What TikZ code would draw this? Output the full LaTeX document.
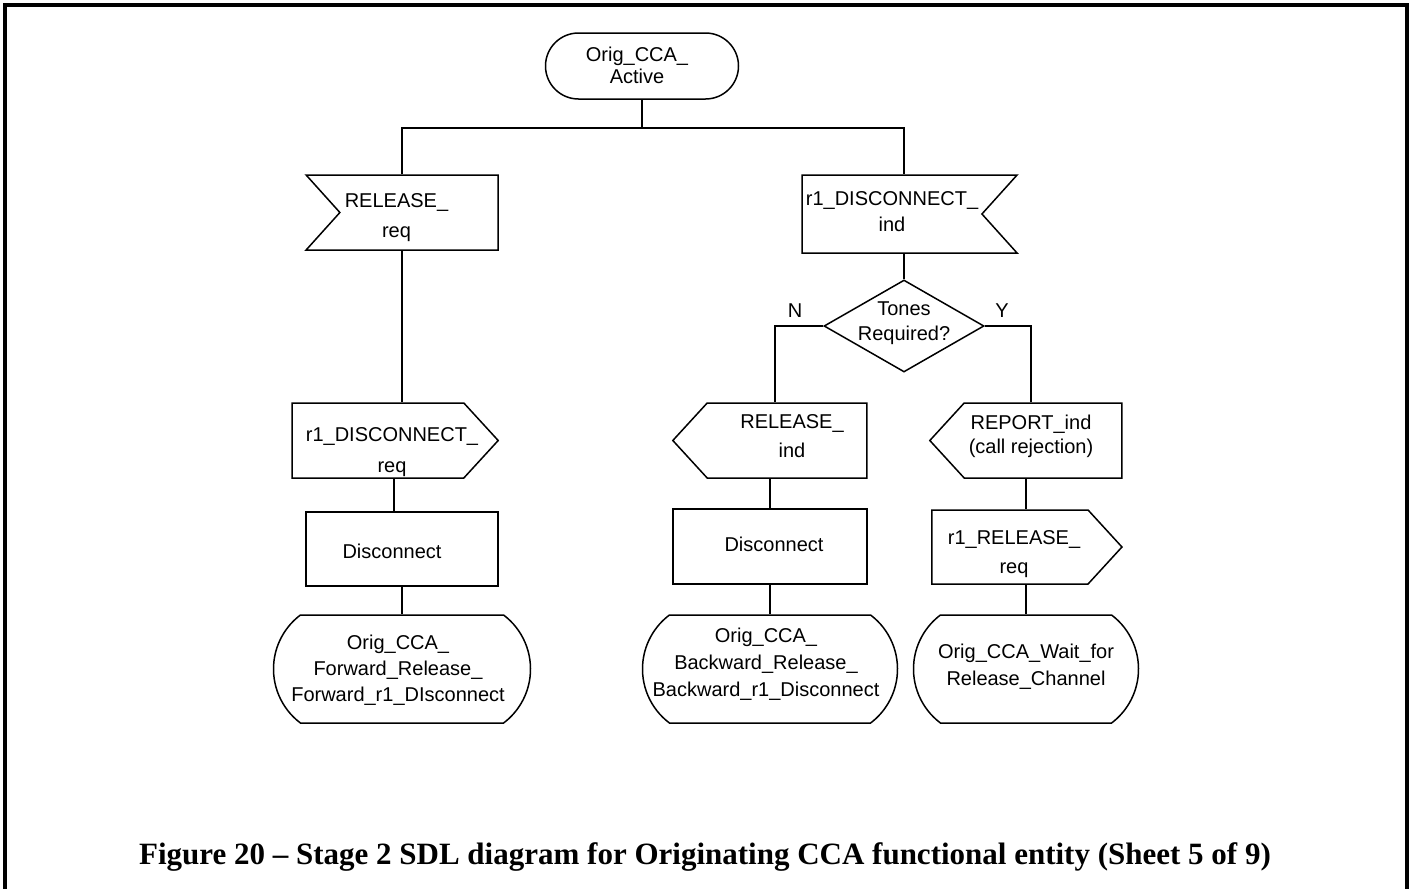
\documentclass[tikz,border=0pt]{standalone}
\usepackage{fontspec}
\newfontfamily\sdlfont{Liberation Sans}
\newfontfamily\capfont{Liberation Serif}
\usetikzlibrary{shapes.symbols,shapes.misc,shapes.geometric}

\begin{document}
\begin{tikzpicture}[x=1pt,y=-1pt,
  every node/.style={font=\sdlfont\fontsize{20}{26}\selectfont,align=center,inner sep=0pt},
  sdl/.style={draw,line width=1.5pt},
  statebox/.style={sdl,rounded rectangle,rounded rectangle arc length=106,minimum height=108pt},
  taskbox/.style={sdl,rectangle,minimum width=194pt,minimum height=75pt},
  sendbox/.style={sdl,signal,signal to=#1,signal pointer angle=95,minimum height=75pt},
  recvbox/.style={sdl,signal,signal to=nowhere,signal from=#1,signal pointer angle=96,minimum height=75pt},
  choice/.style={sdl,diamond,minimum width=160pt,minimum height=92pt},
  wire/.style={line width=1.5pt}]
\useasboundingbox (0,0) rectangle (1414,889);
% frame
\draw [line width=3.5pt] (5,889) -- (5,5) -- (1407,5) -- (1407,889);

% start state
\node [sdl,rounded rectangle,minimum width=193pt,minimum height=66pt,
  label={[xshift=-5pt,yshift=1pt]center:Orig\_CCA\_\\[-4pt]Active}] (active) at (642,66) {};
\coordinate (bus) at (642,128);

% left branch
\node [recvbox=west,minimum width=192pt,
  label={[xshift=-22.5pt,yshift=-5pt]center:RELEASE\_\\[4pt]req}] (relreq) at (419,212.5) {};
\node [sendbox=east,minimum width=206pt,
  label={[xshift=14pt,yshift=-12pt]center:r1\_DISCONNECT\_\\[5pt]req}] (discreq) at (378,440.5) {};
\node [taskbox,minimum width=192pt,minimum height=74pt,
  label={[xshift=-10pt,yshift=-2pt]center:Disconnect}] (disc1) at (402,549) {};
\node [statebox,minimum width=257pt,
  label={[xshift=-4pt,yshift=-1pt]center:Orig\_CCA\_\\Forward\_Release\_\\Forward\_r1\_DIsconnect}] (fwd) at (402,669) {};

% right branch
\node [recvbox=east,minimum width=215pt,minimum height=78pt,
  label={[xshift=0pt,yshift=2pt]center:r1\_DISCONNECT\_\\[0pt]ind}] (discind) at (892,214) {};
\node [choice,label={[xshift=0pt,yshift=3pt]center:Tones\\[-1pt]Required?}] (tones) at (904,326) {};
\node (no) at (795,311) {N};
\node (yes) at (1002,311) {Y};

\node [sendbox=west,minimum width=194pt,
  label={[xshift=5pt,yshift=4pt]center:RELEASE\_\\[3pt]ind}] (relind) at (787,440.5) {};
\node [taskbox,label={[xshift=4pt,yshift=2pt]center:Disconnect}] (disc2) at (770,546.5) {};
\node [statebox,minimum width=255pt,
  label={[xshift=-4pt,yshift=5pt]center:Orig\_CCA\_\\[1pt]Backward\_Release\_\\[1pt]Backward\_r1\_Disconnect}] (bwd) at (770,669) {};

\node [sendbox=west,minimum width=192pt,
  label={[xshift=-12pt,yshift=4pt]center:REPORT\_ind\\[-2pt](call rejection)}] (repind) at (1043,440.5) {};
\node [sendbox=east,minimum width=190pt,minimum height=74pt,
  label={[xshift=4pt,yshift=-7pt]center:r1\_RELEASE\_\\[3pt]req}] (relreq2) at (1010,547) {};
\node [statebox,minimum width=225pt,
  label={[xshift=0pt,yshift=2pt]center:Orig\_CCA\_Wait\_for\\[1pt]Release\_Channel}] (waitrel) at (1026,669) {};

% connectors
\draw [wire] (active.south) -- (bus);
\draw [wire] ([xshift=-17pt]relreq.north) |- (bus) -| ([xshift=12pt]discind.north);
\draw [wire] ([xshift=-17pt]relreq.south) -- ([xshift=24pt]discreq.north);
\draw [wire] ([xshift=16pt]discreq.south) -- ([xshift=-8pt]disc1.north);
\draw [wire] (disc1.south) -- (fwd.north);
\draw [wire] ([xshift=12pt]discind.south) -- (tones.north);
\draw [wire] (tones.west) -| ([xshift=-12pt]relind.north);
\draw [wire] (tones.east) -| ([xshift=-12pt]repind.north);
\draw [wire] ([xshift=-17pt]relind.south) -- (disc2.north);
\draw [wire] (disc2.south) -- (bwd.north);
\draw [wire] ([xshift=-17pt]repind.south) -- ([xshift=16pt]relreq2.north);
\draw [wire] ([xshift=16pt]relreq2.south) -- (waitrel.north);

% caption
\node (caption) at (705,857) {\capfont\bfseries\fontsize{31}{36}\selectfont Figure 20 – Stage 2 SDL diagram for Originating CCA functional entity (Sheet 5 of 9)};
\end{tikzpicture}
\end{document}
